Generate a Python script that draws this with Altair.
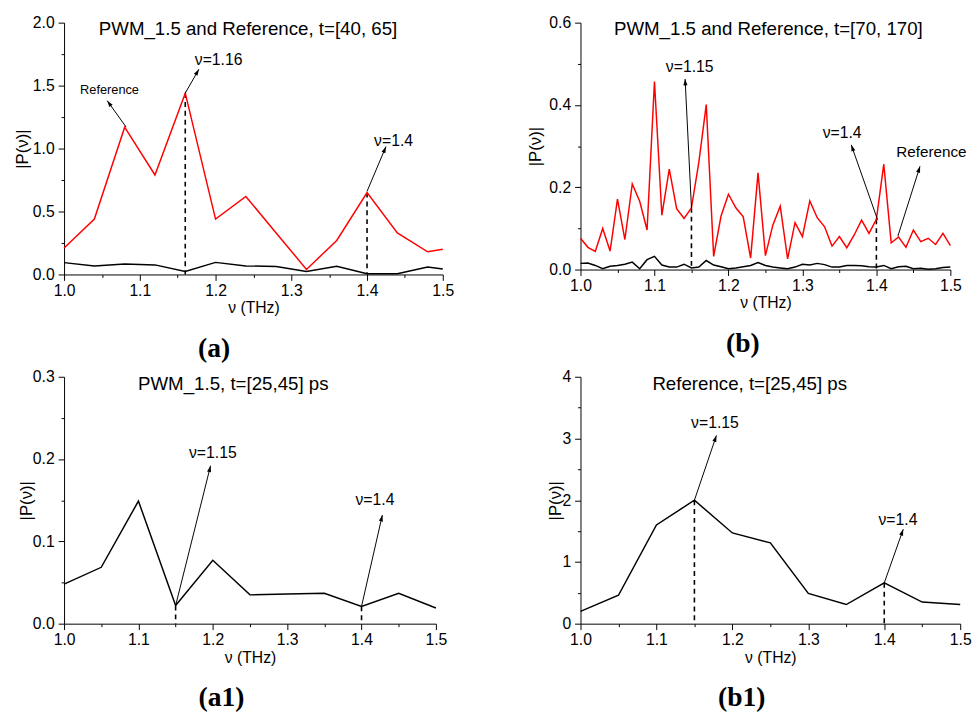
import math
import altair as alt
import pandas as pd

# ---------------- values ----------------
# (a)  PWM_1.5 and Reference, t=[40, 65]
freq_a = [1.00, 1.04, 1.08, 1.12, 1.16, 1.20, 1.24, 1.28, 1.32, 1.36, 1.40, 1.44, 1.48, 1.50]
ref_a = [0.21, 0.44, 1.17, 0.79, 1.44, 0.44, 0.62, 0.33, 0.04, 0.27, 0.65, 0.33, 0.18, 0.20]
pwm_a = [0.094, 0.068, 0.083, 0.076, 0.023, 0.096, 0.068, 0.063, 0.023, 0.065, 0.005, 0.005, 0.060, 0.044]

# (b)  PWM_1.5 and Reference, t=[70, 170]
freq_b = [1.00, 1.01, 1.02, 1.03, 1.04, 1.05, 1.06, 1.07, 1.08, 1.09,
          1.10, 1.11, 1.12, 1.13, 1.14, 1.15, 1.16, 1.17, 1.18, 1.19,
          1.20, 1.21, 1.22, 1.23, 1.24, 1.25, 1.26, 1.27, 1.28, 1.29,
          1.30, 1.31, 1.32, 1.33, 1.34, 1.35, 1.36, 1.37, 1.38, 1.39,
          1.40, 1.41, 1.42, 1.43, 1.44, 1.45, 1.46, 1.47, 1.48, 1.49, 1.50]
ref_b = [0.076, 0.054, 0.044, 0.100, 0.045, 0.171, 0.073, 0.208, 0.166, 0.096,
         0.457, 0.132, 0.244, 0.148, 0.124, 0.150, 0.261, 0.401, 0.032, 0.130,
         0.183, 0.150, 0.128, 0.028, 0.235, 0.034, 0.108, 0.154, 0.026, 0.114,
         0.080, 0.167, 0.126, 0.104, 0.057, 0.080, 0.053, 0.084, 0.120, 0.088,
         0.122, 0.256, 0.065, 0.079, 0.054, 0.096, 0.068, 0.076, 0.061, 0.088, 0.058]
pwm_b = [0.015, 0.016, 0.010, 0.002, 0.008, 0.010, 0.013, 0.018, 0.002, 0.024,
         0.032, 0.011, 0.006, 0.006, 0.013, 0.004, 0.006, 0.022, 0.011, 0.007,
         0.002, 0.004, 0.007, 0.010, 0.017, 0.010, 0.006, 0.004, 0.002, 0.006,
         0.013, 0.011, 0.015, 0.012, 0.006, 0.006, 0.010, 0.010, 0.009, 0.007,
         0.006, 0.010, 0.002, 0.007, 0.008, 0.002, 0.003, 0.001, 0.002, 0.005, 0.006]

# (a1) PWM_1.5, t=[25,45] ps
freq_a1 = [1.00, 1.05, 1.10, 1.15, 1.20, 1.25, 1.30, 1.35, 1.40, 1.45, 1.50]
pwm_a1 = [0.048, 0.0685, 0.149, 0.022, 0.077, 0.035, 0.036, 0.037, 0.021, 0.037, 0.019]

# (b1) Reference, t=[25,45] ps
freq_b1 = [1.00, 1.05, 1.10, 1.15, 1.20, 1.25, 1.30, 1.35, 1.40, 1.45, 1.50]
ref_b1 = [0.20, 0.46, 1.60, 2.00, 1.47, 1.31, 0.49, 0.31, 0.66, 0.35, 0.31]

# axis ticks (major + minor)
x_ticks = [1.00, 1.05, 1.10, 1.15, 1.20, 1.25, 1.30, 1.35, 1.40, 1.45, 1.50]
y_ticks_a = [0.0, 0.25, 0.5, 0.75, 1.0, 1.25, 1.5, 1.75, 2.0]
y_ticks_b = [0.0, 0.1, 0.2, 0.3, 0.4, 0.5, 0.6]
y_ticks_a1 = [0.0, 0.05, 0.1, 0.15, 0.2, 0.25, 0.3]
y_ticks_b1 = [0, 0.5, 1, 1.5, 2, 2.5, 3, 3.5, 4]

# annotations: dashed drop lines (x, y)
drop_a_x = [1.16, 1.40]
drop_a_y = [1.44, 0.65]
drop_b_x = [1.15, 1.40]
drop_b_y = [0.150, 0.122]
drop_a1_x = [1.15, 1.40]
drop_a1_y = [0.022, 0.021]
drop_b1_x = [1.15, 1.40]
drop_b1_y = [2.00, 0.66]

# arrows: start x, start y, end x, end y
arrow_a = [[1.16, 1.44, 1.178, 1.63], [1.40, 0.66, 1.425, 1.016], [1.082, 1.17, 1.057, 1.38]]
arrow_b = [[1.15, 0.150, 1.1414, 0.463], [1.4016, 0.121, 1.366, 0.303], [1.429, 0.081, 1.459, 0.251]]
arrow_a1 = [[1.15, 0.022, 1.197, 0.192], [1.40, 0.021, 1.428, 0.132]]
arrow_b1 = [[1.15, 2.00, 1.179, 3.05], [1.40, 0.66, 1.425, 1.53]]

# labels: text, x, y, font size
note_a = [["ν=1.16", 1.204, 1.706, 16], ["ν=1.4", 1.435, 1.062, 16], ["Reference", 1.060, 1.464, 13]]
note_b = [["ν=1.15", 1.1476, 0.492, 16], ["ν=1.4", 1.3537, 0.331, 16], ["Reference", 1.4743, 0.285, 15.5]]
note_a1 = [["ν=1.15", 1.200, 0.207, 16], ["ν=1.4", 1.418, 0.1506, 16]]
note_b1 = [["ν=1.15", 1.177, 3.256, 16], ["ν=1.4", 1.418, 1.684, 16]]

FONT = "Liberation Sans"
HEAD = "M0,0L-0.32,1L0.32,1Z"
XDOM = [1.0, 1.5]


def major_test(k):
    return f"abs(datum.value*{k} - round(datum.value*{k})) < 0.001"


def make_axis(values, k, fmt, title, tpad, lpad, tsize):
    return alt.Axis(
        values=values,
        labelExpr=f"{major_test(k)} ? format(datum.value, '{fmt}') : ''",
        tickSize={"condition": {"test": major_test(k), "value": 6}, "value": 3},
        title=title, titleFontSize=tsize, titlePadding=tpad, titleFont=FONT,
        titleFontWeight="normal", titleColor="black",
        labelFont=FONT, labelFontSize=16, labelColor="black", labelPadding=lpad,
        labelFlush=False, labelOverlap=False, grid=False,
        domainColor="black", tickColor="black", domainWidth=1, tickWidth=1,
    )


def panel(series, ydom, yticks, yk, yfmt, W, H, drops, arrows, notes,
          title_txt, title_x, title_y, plabel, plabel_dx, plabel_off, ytpad):
    xaxis = make_axis(x_ticks, 10, ".1f", "ν (THz)", 2, 2, 16)
    yaxis = make_axis(yticks, yk, yfmt, "|P(ν)|", ytpad, 4, 17)
    xs = alt.Scale(domain=XDOM, nice=False, zero=False)
    ys = alt.Scale(domain=ydom, nice=False, zero=False)

    def X(f):
        return alt.X(f"{f}:Q", scale=xs, axis=xaxis)

    def Y(f):
        return alt.Y(f"{f}:Q", scale=ys, axis=yaxis)

    layers = []
    # dashed drop lines
    ddf = pd.DataFrame({"x": drops[0], "y": drops[1]})
    layers.append(alt.Chart(ddf).mark_rule(color="black", strokeWidth=1.6, strokeDash=[5, 4]).encode(
        x=X("x"), y=Y("y"), y2=alt.Y2Datum(0)))
    for freq, vals, color in series:
        df = pd.DataFrame({"f": freq, "p": vals})
        layers.append(alt.Chart(df).mark_line(color=color, strokeWidth=1.5).encode(x=X("f"), y=Y("p")))
    # arrows
    rows = []
    for x1, y1, x2, y2 in arrows:
        dx = (x2 - x1) / (XDOM[1] - XDOM[0]) * W
        dy = (y2 - y1) / (ydom[1] - ydom[0]) * H
        ang = math.degrees(math.atan2(dx, dy)) % 360
        rows.append({"x1": x1, "y1": y1, "x2": x2, "y2": y2, "ang": ang})
    adf = pd.DataFrame(rows)
    layers.append(alt.Chart(adf).mark_rule(color="black", strokeWidth=1).encode(
        x=X("x1"), y=Y("y1"), x2="x2:Q", y2="y2:Q"))
    layers.append(alt.Chart(adf).mark_point(shape=HEAD, filled=True, size=170, color="black",
                                            opacity=1, strokeWidth=0).encode(
        x=X("x2"), y=Y("y2"), angle=alt.Angle("ang:Q", scale=None)))
    # annotation texts
    ndf = pd.DataFrame(notes, columns=["txt", "x", "y", "sz"])
    layers.append(alt.Chart(ndf).mark_text(font=FONT, color="black", align="center", baseline="middle").encode(
        x=X("x"), y=Y("y"), text="txt:N", size=alt.Size("sz:Q", scale=None, legend=None)))
    # inner title
    tdf = pd.DataFrame({"t": [title_txt]})
    layers.append(alt.Chart(tdf).mark_text(font=FONT, fontSize=19, color="black", align="center",
                                           baseline="top").encode(
        x=alt.value(title_x), y=alt.value(title_y), text="t:N"))
    return alt.layer(*layers).properties(
        width=W, height=H,
        title=alt.TitleParams(plabel, orient="bottom", frame="group", anchor="middle", dx=plabel_dx,
                              offset=plabel_off, font="Liberation Serif", fontSize=28,
                              fontWeight="bold", color="black"))


pa = panel([(freq_a, ref_a, "#ff0000"), (freq_a, pwm_a, "black")], [0, 2.0], y_ticks_a, 2, ".1f",
           385, 256, (drop_a_x, drop_a_y), arrow_a, note_a,
           "PWM_1.5 and Reference, t=[40, 65]", 187, -2, "(a)", -40, 20, 1)
pb = panel([(freq_b, ref_b, "#ff0000"), (freq_b, pwm_b, "black")], [0, 0.6], y_ticks_b, 5, ".1f",
           376, 251, (drop_b_x, drop_b_y), arrow_b, note_b,
           "PWM_1.5 and Reference, t=[70, 170]", 191, -2, "(b)", -23, 20, 4)
pa1 = panel([(freq_a1, pwm_a1, "black")], [0, 0.3], y_ticks_a1, 10, ".1f",
            378, 251, (drop_a1_x, drop_a1_y), arrow_a1, note_a1,
            "PWM_1.5, t=[25,45] ps", 172, -2, "(a1)", -29, 20, -3)
pb1 = panel([(freq_b1, ref_b1, "black")], [0, 4], y_ticks_b1, 1, "d",
            386, 251, (drop_b1_x, drop_b1_y), arrow_b1, note_b1,
            "Reference, t=[25,45] ps", 172, -2, "(b1)", -29, 20, -3)

row1 = alt.hconcat(pa, pb, spacing=73)
row2 = alt.hconcat(pa1, pb1, spacing=101)
chart = alt.vconcat(row1, row2, spacing=6).properties(
    padding={"left": 5, "top": 1, "right": 0, "bottom": 0}
).configure_view(stroke=None)

chart.save("out.html", embed_options={"renderer": "svg", "actions": False})
